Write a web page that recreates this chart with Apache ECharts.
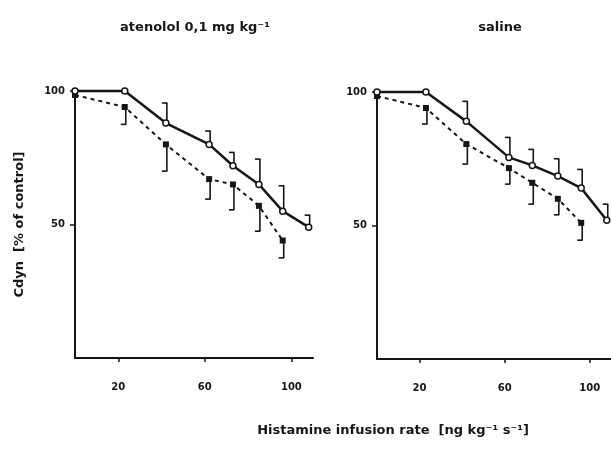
<!DOCTYPE html>
<html>
<head>
<meta charset="utf-8">
<script src="https://cdn.jsdelivr.net/npm/echarts@6/dist/echarts.min.js"></script>
<style>
	html, body { margin: 0; padding: 0; background: #fff; }
	#chart { width: 611px; height: 449px; }
</style>
</head>
<body>
<div id="chart"></div>
<script>
// histamine infusion rates (x positions of the points)
var doses = [0, 23, 42, 62, 73, 85, 96, 108];
var xTicks = [20, 60, 100];
var yTicks = [50, 100];

// atenolol panel
var atenSolid = [100, 100, 88, 80, 72, 65, 55, 49];
var atenSolidErr = [null, null, 95.5, 85, 77, 74.5, 64.5, 53.5];
var atenDashed = [98.5, 94, 80, 67, 65, 57, 44];
var atenDashedErr = [null, 87.5, 70, 59.5, 55.5, 47.5, 37.5];

// saline panel
var salSolid = [100, 100, 89, 75.5, 72.5, 68.5, 64, 52];
var salSolidErr = [null, null, 96.5, 83, 78.5, 75, 71, 58];
var salDashed = [98.5, 94, 80.5, 71.5, 66, 60, 51];
var salDashedErr = [null, 88, 73, 65.5, 58, 54, 44.5];

var ink = '#161616';
var font = 'DejaVu Sans';

function pairs(xs, ys) {
	var out = [];
	for (var i = 0; i < ys.length; i++) {
		out.push([xs[i], ys[i]]);
	}
	return out;
}

function errPairs(xs, ys, ends) {
	var out = [];
	for (var i = 0; i < ys.length; i++) {
		if (ends[i] != null) out.push([xs[i], ys[i], ends[i]]);
	}
	return out;
}

// vertical bar with a small cap pointing left, like "]"
function renderErr(params, api) {
	var p1 = api.coord([api.value(0), api.value(1)]);
	var p2 = api.coord([api.value(0), api.value(2)]);
	var x = p1[0] + 1;
	return {
		type: 'group',
		children: [{
			type: 'line',
			shape: { x1: x, y1: p1[1], x2: x, y2: p2[1] },
			style: { stroke: ink, lineWidth: 1.6 }
		}, {
			type: 'line',
			shape: { x1: x + 0.5, y1: p2[1], x2: x - 5, y2: p2[1] },
			style: { stroke: ink, lineWidth: 1.6 }
		}]
	};
}

function xAxisFor(idx) {
	return {
		gridIndex: idx,
		type: 'value',
		min: 0,
		max: 110,
		axisLine: { lineStyle: { color: ink, width: 2 } },
		axisTick: { customValues: xTicks, length: 4, lineStyle: { color: ink, width: 1.5 } },
		axisLabel: { customValues: xTicks, color: ink, fontFamily: font, fontWeight: 'bold', fontSize: 10, margin: 24 },
		splitLine: { show: false }
	};
}

function yAxisFor(idx) {
	var ax = {
		gridIndex: idx,
		type: 'value',
		min: 0,
		max: 100,
		axisLine: { lineStyle: { color: ink, width: 2 } },
		axisTick: { customValues: yTicks, length: 5, lineStyle: { color: ink, width: 1.5 } },
		axisLabel: { customValues: yTicks, color: ink, fontFamily: font, fontWeight: 'bold', fontSize: 10, margin: 10 },
		splitLine: { show: false }
	};
	if (idx === 0) {
		ax.name = 'Cdyn  [% of control]';
		ax.nameLocation = 'middle';
		ax.nameGap = 49;
		ax.nameTextStyle = { color: ink, fontFamily: font, fontWeight: 'bold', fontSize: 13 };
	}
	return ax;
}

function panelSeries(idx, solid, solidErr, dashed, dashedErr) {
	return [{
		type: 'custom',
		xAxisIndex: idx,
		yAxisIndex: idx,
		renderItem: renderErr,
		data: errPairs(doses, solid, solidErr),
		z: 1
	}, {
		type: 'custom',
		xAxisIndex: idx,
		yAxisIndex: idx,
		renderItem: renderErr,
		data: errPairs(doses, dashed, dashedErr),
		z: 1
	}, {
		type: 'line',
		xAxisIndex: idx,
		yAxisIndex: idx,
		data: pairs(doses, dashed),
		clip: false,
		symbol: 'rect',
		symbolSize: 6,
		lineStyle: { color: ink, width: 2, type: [4, 4] },
		itemStyle: { color: ink, borderColor: ink, borderWidth: 0 },
		z: 2
	}, {
		type: 'line',
		xAxisIndex: idx,
		yAxisIndex: idx,
		data: pairs(doses, solid),
		clip: false,
		symbol: 'circle',
		symbolSize: 6,
		showAllSymbol: true,
		lineStyle: { color: ink, width: 2.5 },
		itemStyle: { color: '#fff', borderColor: ink, borderWidth: 1.5 },
		z: 3
	}];
}

var titleStyle = { color: ink, fontFamily: font, fontWeight: 'bold', fontSize: 13 };

var chart = echarts.init(document.getElementById('chart'));
chart.setOption({
	backgroundColor: '#fff',
	animation: false,
	title: [{
		text: 'atenolol 0,1 mg kg⁻¹',
		left: 190,
		top: 16,
		textAlign: 'center',
		textStyle: titleStyle
	}, {
		text: 'saline',
		left: 495,
		top: 16,
		textAlign: 'center',
		textStyle: titleStyle
	}, {
		text: 'Histamine infusion rate  [ng kg⁻¹ s⁻¹]',
		left: 388,
		top: 419,
		textAlign: 'center',
		textStyle: titleStyle
	}],
	grid: [
		{ left: 75, top: 91, width: 238, height: 267 },
		{ left: 377, top: 92, width: 238, height: 267 }
	],
	xAxis: [xAxisFor(0), xAxisFor(1)],
	yAxis: [yAxisFor(0), yAxisFor(1)],
	series: panelSeries(0, atenSolid, atenSolidErr, atenDashed, atenDashedErr)
		.concat(panelSeries(1, salSolid, salSolidErr, salDashed, salDashedErr))
});
</script>
</body>
</html>
